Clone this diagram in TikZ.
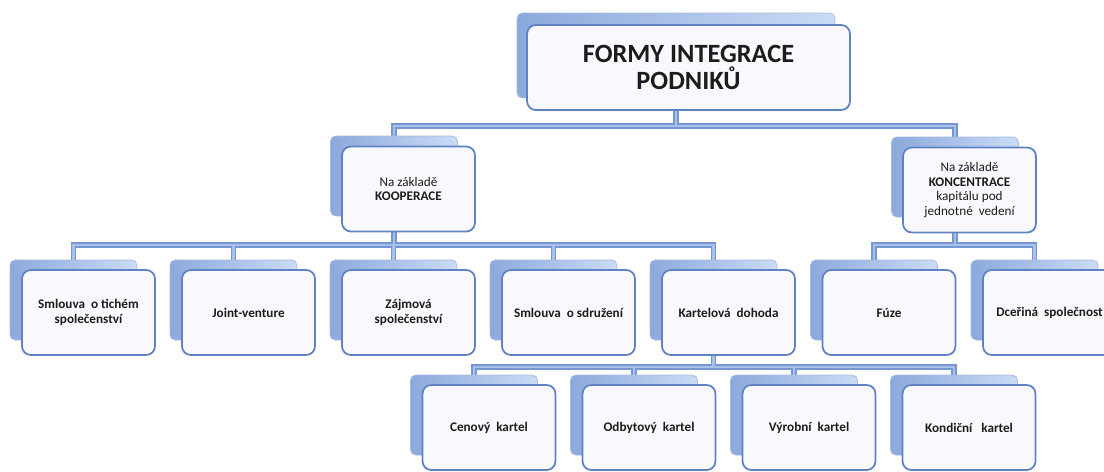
\documentclass[tikz,border=0pt]{standalone}
\usepackage{fontspec}
\setmainfont{Carlito}
\usepackage{xcolor}
\usetikzlibrary{backgrounds}

\definecolor{boxedge}{HTML}{5F82C2}
\definecolor{boxfill}{HTML}{F9F9FD}
\definecolor{backdark}{HTML}{8CA9DC}
\definecolor{backlight}{HTML}{CADBF5}
\definecolor{linkedge}{HTML}{7596D0}
\definecolor{linkfill}{HTML}{A9C0EA}
\definecolor{txt}{HTML}{1C1C1C}

\begin{document}
\begin{tikzpicture}[x=0.02cm,y=-0.02cm,
  backbox/.style={rectangle,rounded corners=3pt,left color=backdark,right color=backlight,
    draw=backdark!80!white,line width=0.4pt,minimum width=2.54cm,minimum height=1.6cm},
  frontbox/.style={rectangle,rounded corners=5pt,draw=boxedge,line width=1pt,fill=boxfill,
    minimum width=2.66cm,minimum height=1.7cm,align=center,text=txt,
    font=\fontsize{7.5}{8.2}\selectfont\bfseries},
  link/.style={draw=linkedge,line width=0.9pt,double=linkfill,double distance=1.4pt,line join=miter}]
  \useasboundingbox (0,0) rectangle (1104,471);
  \clip (0,0) rectangle (1104,471);
  \coordinate (bus0) at (0,126);
  \coordinate (bus1) at (0,245);
  \coordinate (bus2) at (0,367);
  % top box
  \node[backbox,minimum width=6.36cm,minimum height=1.7cm] (rootB) at (676,55.5) {};
  \node[frontbox,minimum width=6.46cm,minimum height=1.7cm,font=\fontsize{15}{15.5}\selectfont\bfseries]
    (root) at (688.5,67.5) {FORMY INTEGRACE\\PODNIKŮ};
  % second level
  \node[backbox] (koopB) at (394,176) {};
  \node[frontbox,font=\fontsize{7.5}{8.2}\selectfont] (koop) at (408.5,189)
    {Na základě\\\textbf{KOOPERACE}};
  \node[backbox] (koncB) at (955,177) {};
  \node[frontbox,font=\fontsize{7.5}{8.2}\selectfont] (konc) at (969.5,190)
    {Na základě\\\textbf{KONCENTRACE}\\kapitálu pod\\jednotné\ \ vedení};
  % third level
  \foreach \nm/\xc/\lab in {tiche/88.5/{Smlouva\ \ o tichém\\společenství},
      joint/248.5/{Joint-venture},
      zajm/408.5/{Zájmová\\společenství},
      sdruz/568.5/{Smlouva\ \ o sdružení},
      kartel/728.5/{Kartelová\ \ dohoda},
      fuze/889/{Fúze},
      dcer/1049.5/{Dceřiná\ \ společnost}} {
    \node[backbox] (\nm B) at (\xc-15,300) {};
    \node[frontbox] (\nm) at (\xc,312.5) {\lab};
  }
  % cartels
  \foreach \nm/\xc/\lab in {cen/489/{Cenový\ \ kartel},
      odb/649/{Odbytový\ \ kartel},
      vyr/809/{Výrobní\ \ kartel},
      kond/969/{Kondiční\ \ \ kartel}} {
    \node[backbox] (\nm B) at (\xc-15,415) {};
    \node[frontbox] (\nm) at (\xc,427.5) {\lab};
  }
  % all connectors in one path, so the double lines merge
  \begin{scope}[on background layer]
    \draw[link] (root.south -| rootB) -- (rootB |- bus0)
      (koopB.north) -- (koopB.north |- bus0) -- (koncB.north |- bus0) -- (koncB.north)
      (koop.south -| koopB) -- (koopB |- bus1)
      (ticheB.north) -- (ticheB.north |- bus1) -- (kartelB.north |- bus1) -- (kartelB.north)
      (jointB.north) -- (jointB.north |- bus1)
      (zajmB.north) -- (zajmB.north |- bus1)
      (sdruzB.north) -- (sdruzB.north |- bus1)
      (konc.south -| koncB) -- (koncB |- bus1)
      (fuzeB.north) -- (fuzeB.north |- bus1) -- (dcerB.north |- bus1) -- (dcerB.north)
      (kartel.south -| kartelB) -- (kartelB |- bus2)
      (cenB.north) -- (cenB.north |- bus2) -- (kondB.north |- bus2) -- (kondB.north)
      (odbB.north) -- (odbB.north |- bus2)
      (vyrB.north) -- (vyrB.north |- bus2);
  \end{scope}
\end{tikzpicture}
\end{document}
